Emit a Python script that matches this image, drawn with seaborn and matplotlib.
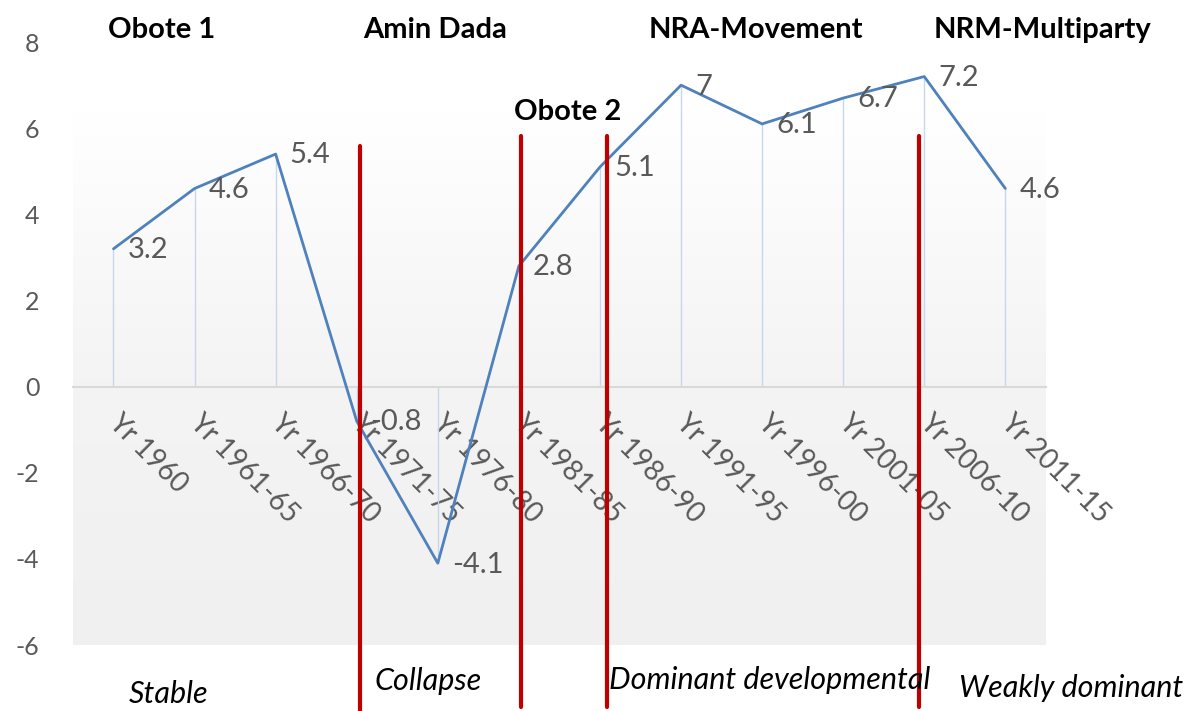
import numpy as np
import pandas as pd
import matplotlib.pyplot as plt
import seaborn as sns
from matplotlib.colors import LinearSegmentedColormap
from matplotlib.transforms import ScaledTranslation

# GDP growth by period
periods = ["Yr 1960", "Yr 1961-65", "Yr 1966-70", "Yr 1971-75", "Yr 1976-80", "Yr 1981-85",
           "Yr 1986-90", "Yr 1991-95", "Yr 1996-00", "Yr 2001-05", "Yr 2006-10", "Yr 2011-15"]
growth = [3.2, 4.6, 5.4, -0.8, -4.1, 2.8, 5.1, 7, 6.1, 6.7, 7.2, 4.6]

# regime boundaries (in category units) and regime names
boundaries = [3.04, 5.02, 6.09, 9.93]
regimes = ["Obote 1", "Amin Dada", "Obote 2", "NRA-Movement", "NRM-Multiparty"]
regime_types = ["Stable", "Collapse", "Dominant developmental", "Weakly dominant"]

df = pd.DataFrame({"period": periods, "growth": growth})

sns.set_theme(style="white")
plt.rcParams["font.family"] = ["Lato", "DejaVu Sans"]
plt.rcParams["axes.unicode_minus"] = False

fig = plt.figure(figsize=(11.9, 7.11), dpi=100)
ax = fig.add_axes([0.0613, 0.0928, 0.8176, 0.848])

# plot area gradient (white to light grey)
grey = LinearSegmentedColormap.from_list("g", ["#f0f0f0", "#f4f4f4", "#ffffff"])
grad = np.linspace(0, 1, 256).reshape(-1, 1)
ax.imshow(grad, cmap=grey, origin="lower", aspect="auto",
          extent=(-0.5, len(periods) - 0.5, -6, 6.4), zorder=0)

# drop lines
ax.vlines(range(len(periods)), 0, growth, color="#c6d6ec", lw=1, zorder=1)

sns.lineplot(data=df, x="period", y="growth", sort=False, color="#4f81bd", lw=2, ax=ax, zorder=3)

for i, v in enumerate(growth):
    ax.annotate(f"{v:g}", (i, v), xytext=(10, -1), textcoords="offset points",
                ha="left", va="center", fontsize=21, color="#595959", zorder=4)

# regime separators
tops = [5.59, 5.82, 5.82, 5.82]
bottoms = [-7.6, -7.44, -7.44, -7.44]
for b, t, bt in zip(boundaries, tops, bottoms):
    ax.plot([b, b], [bt, t], color="#c00000", lw=3, clip_on=False, zorder=5)

ax.set_xlim(-0.5, len(periods) - 0.5)
ax.set_ylim(-6, 8)
ax.set_yticks(range(-6, 9, 2))
ax.set_xlabel("")
ax.set_ylabel("")
for s in ["top", "right", "left"]:
    ax.spines[s].set_visible(False)
ax.spines["bottom"].set_position(("data", 0))
ax.spines["bottom"].set_color("#d9d9d9")
ax.spines["bottom"].set_linewidth(1.5)
ax.spines["bottom"].set_zorder(2)
ax.tick_params(axis="y", length=0, pad=24, labelsize=18, labelcolor="#595959")
ax.tick_params(axis="x", length=0, pad=16, labelsize=20, labelcolor="#595959")
shift = ScaledTranslation(6 / 72, 0, fig.dpi_scale_trans)
for lab in ax.get_xticklabels():
    lab.set_rotation(-45)
    lab.set_ha("left")
    lab.set_va("top")
    lab.set_rotation_mode("anchor")
    lab.set_transform(lab.get_transform() + shift)

# regime names above, regime types below
W, H = 1190, 711
name_pos = [(162, 30), (435, 30), (568, 112), (756, 30), (1043, 30)]
for name, (px, py) in zip(regimes, name_pos):
    fig.text(px / W, 1 - py / H, name, ha="center", va="center",
             fontsize=21, fontweight="bold", color="black")
type_pos = [(169, 694), (428, 681), (770, 680), (1071, 688)]
for name, (px, py) in zip(regime_types, type_pos):
    fig.text(px / W, 1 - py / H, name, ha="center", va="center",
             fontsize=22, fontstyle="italic", color="black")

fig.savefig("out.png", dpi=100)
